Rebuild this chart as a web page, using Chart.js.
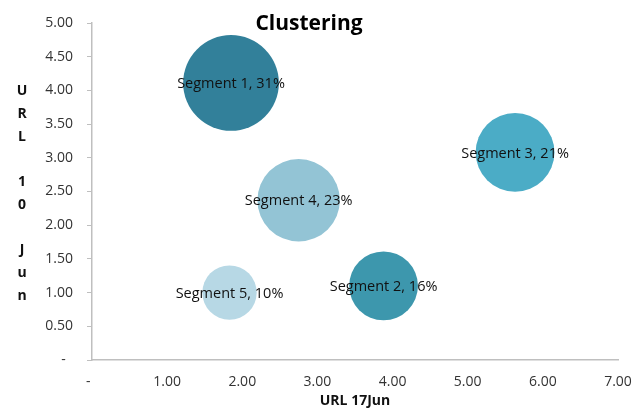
<!DOCTYPE html>
<html>
<head>
<meta charset="utf-8">
<script src="https://cdn.jsdelivr.net/npm/chart.js@4/dist/chart.umd.min.js"></script>
<style>
  html, body { margin: 0; padding: 0; background: #fff; }
  #wrap { width: 635px; height: 415px; }
</style>
</head>
<body>
<div id="wrap"><canvas id="chart" width="635" height="415"></canvas></div>
<script>
// Cluster segments: position on both URL readings, share of total as bubble size
const segments = ['Segment 1', 'Segment 2', 'Segment 3', 'Segment 4', 'Segment 5'];
const url17Jun = [1.85, 3.88, 5.63, 2.75, 1.83];
const url10Jun = [4.11, 1.10, 3.08, 2.37, 1.00];
const shares   = [31, 16, 21, 23, 10];
const colors   = ['#32809a', '#3d97ad', '#4bacc6', '#93c4d5', '#b7d8e5'];

const chartTitle = 'Clustering';
const xTitle = 'URL 17Jun';
const yTitle = 'URL 10 Jun';

// bubble area proportional to share
const SIZE_K = 8.6;
const points = segments.map((s, i) => ({ x: url17Jun[i], y: url10Jun[i], r: SIZE_K * Math.sqrt(shares[i]) }));

const FONT = '"Open Sans", "Liberation Sans", sans-serif';

function fmt(v) {
  return v === 0 ? '-  ' : v.toFixed(2);
}

// labels in the middle of each bubble, plus overlaid title and stacked y title
const overlay = {
  id: 'overlay',
  afterDatasetsDraw(chart) {
    const ctx = chart.ctx;
    const meta = chart.getDatasetMeta(0);
    ctx.save();
    ctx.fillStyle = '#111';
    ctx.font = '14.5px ' + FONT;
    ctx.textAlign = 'center';
    ctx.textBaseline = 'middle';
    meta.data.forEach((el, i) => {
      ctx.fillText(segments[i] + ', ' + shares[i] + '%', el.x, el.y + 1);
    });

    ctx.font = 'bold 21px ' + FONT;
    ctx.fillStyle = '#000';
    ctx.fillText(chartTitle, 309, 24);

    const area = chart.chartArea;
    const chars = yTitle.split('');
    const step = 22.7;
    const mid = (area.top + area.bottom) / 2 + 2;
    ctx.font = 'bold 14px ' + FONT;
    ctx.fillStyle = '#111';
    chars.forEach((c, i) => {
      const y = mid + (i - (chars.length - 1) / 2) * step;
      if (c !== ' ') ctx.fillText(c, 22, y);
    });
    ctx.restore();
  }
};

new Chart(document.getElementById('chart'), {
  type: 'bubble',
  data: {
    datasets: [{
      data: points,
      backgroundColor: colors,
      borderColor: colors,
      borderWidth: 0
    }]
  },
  options: {
    responsive: false,
    animation: false,
    events: [],
    layout: { autoPadding: false, padding: { top: 23, right: 17, left: 0, bottom: 0 } },
    plugins: {
      legend: { display: false },
      tooltip: { enabled: false },
      title: { display: false }
    },
    scales: {
      x: {
        type: 'linear',
        min: 0, max: 7,
        afterFit(scale) { scale.height = 55; scale.paddingLeft = 0; scale.paddingRight = 0; },
        border: { display: true, color: '#bfbfbf', width: 1.5 },
        grid: { drawOnChartArea: false, drawTicks: false },
        ticks: {
          stepSize: 1,
          padding: 14,
          color: '#333',
          font: { family: FONT, size: 14 },
          callback: v => fmt(v)
        },
        title: {
          display: true,
          text: xTitle,
          color: '#111',
          font: { family: FONT, size: 14, weight: 'bold' },
          padding: { top: 0, bottom: 6 }
        }
      },
      y: {
        type: 'linear',
        min: 0, max: 5,
        afterFit(scale) { scale.width = 92; scale.paddingTop = 0; scale.paddingBottom = 0; },
        border: { display: true, color: '#bfbfbf', width: 1.5 },
        grid: { drawOnChartArea: false, drawTicks: true, tickLength: 5, color: '#bfbfbf' },
        ticks: {
          stepSize: 0.5,
          padding: 14,
          color: '#333',
          font: { family: FONT, size: 14 },
          callback: v => fmt(v)
        }
      }
    }
  },
  plugins: [overlay]
});
</script>
</body>
</html>
